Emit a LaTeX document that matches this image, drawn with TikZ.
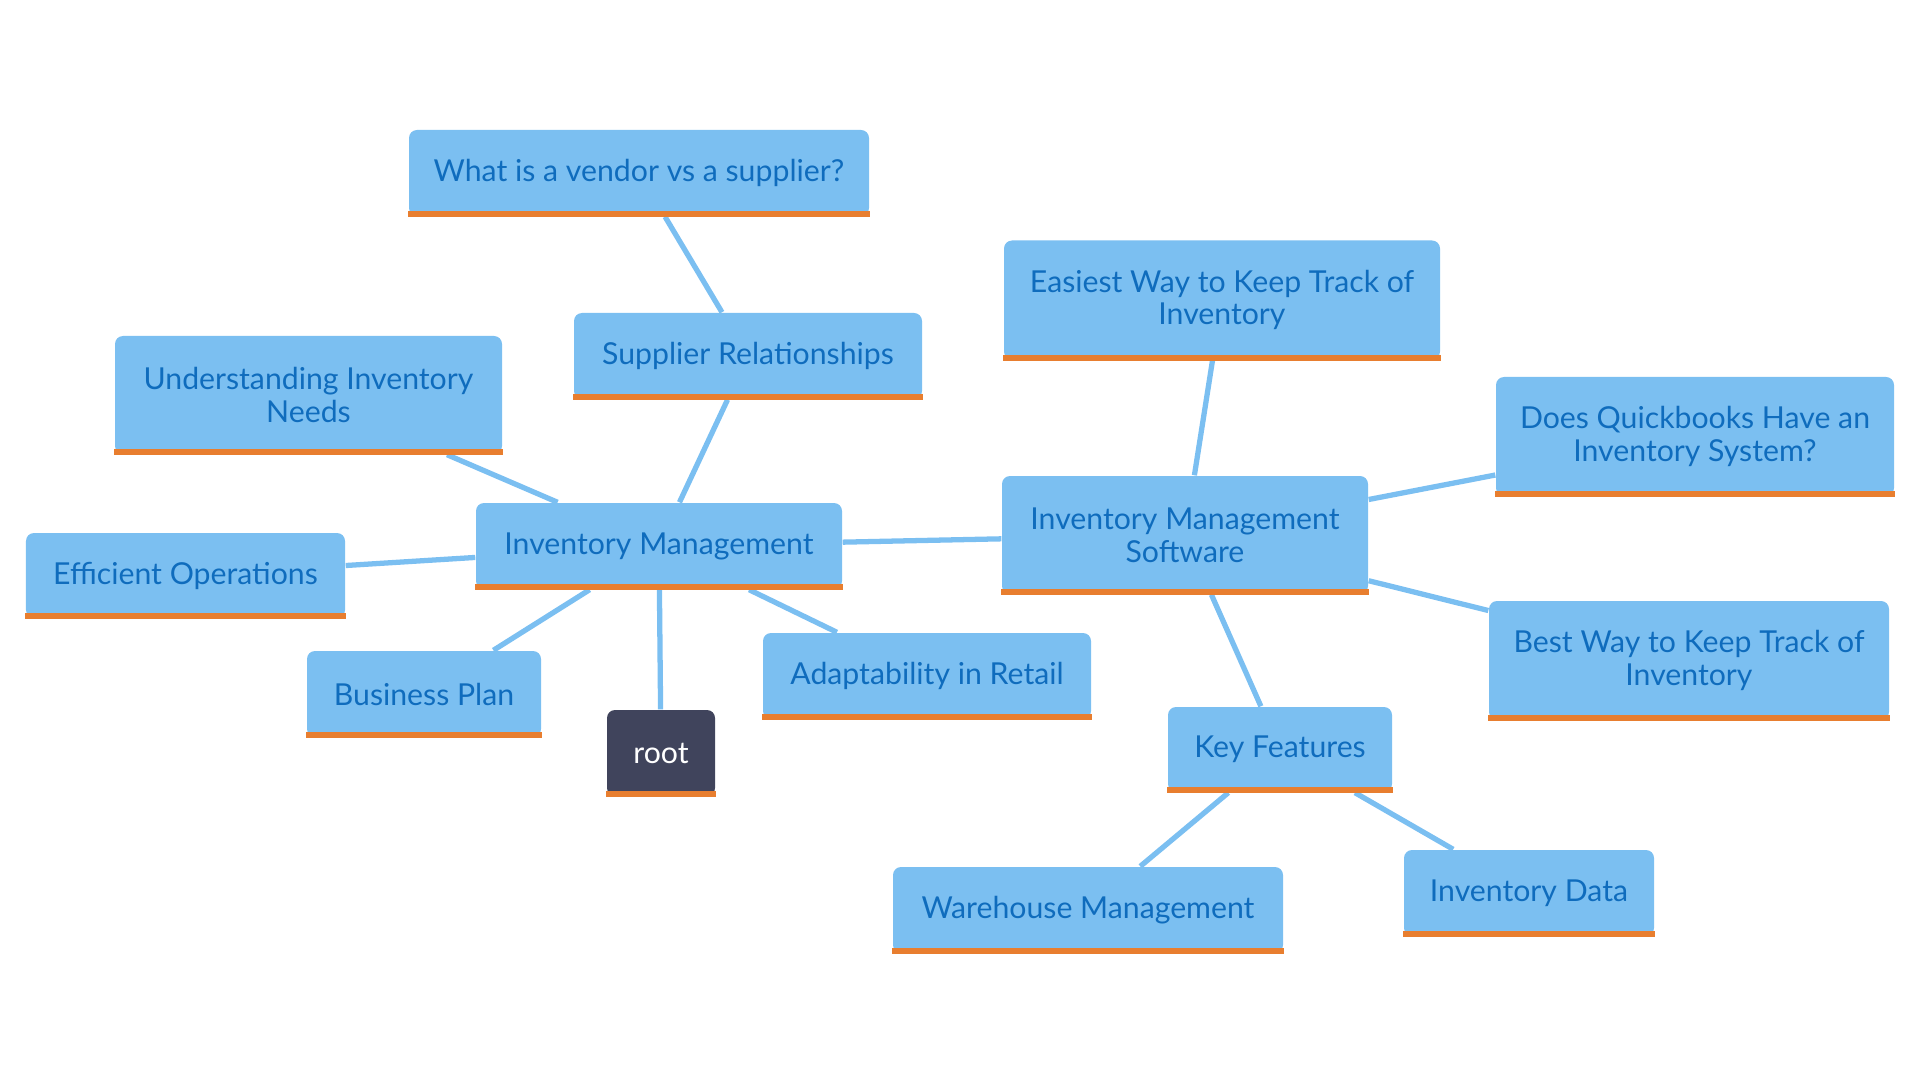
\documentclass[tikz,border=0pt]{standalone}
\usepackage{fontspec}
\setmainfont{Lato}
\usetikzlibrary{backgrounds}
\definecolor{boxblue}{HTML}{7BBFF1}
\definecolor{textblue}{HTML}{0F6CBD}
\definecolor{barorange}{HTML}{E87E2F}
\definecolor{rootgray}{HTML}{40445C}
\begin{document}
\begin{tikzpicture}[
    topic/.style={fill=boxblue, text=textblue, rounded corners=0.08cm, align=center,
      inner sep=0pt, font=\fontsize{8.6}{9.3}\selectfont},
    rootbox/.style={topic, fill=rootgray, text=white},
    link/.style={draw=boxblue, line width=1.5pt},
    bar/.style={draw=barorange, line width=1.6pt}]
  \useasboundingbox (0,0) rectangle (19.2,-10.8);

  % centre
  \node[topic, minimum width=3.66cm, minimum height=0.86cm] (im) at (6.59,-5.46) {Inventory Management};
  \node[rootbox, minimum width=1.08cm, minimum height=0.86cm] (root) at (6.61,-7.53) {root};

  % left branch
  \node[topic, minimum width=3.48cm, minimum height=0.86cm] (supplier) at (7.48,-3.56) {Supplier Relationships};
  \node[topic, minimum width=4.60cm, minimum height=0.86cm] (vendor) at (6.39,-1.73) {What is a vendor vs a supplier?};
  \node[topic, minimum width=3.87cm, minimum height=1.18cm] (needs) at (3.085,-3.95) {Understanding Inventory\\Needs};
  \node[topic, minimum width=3.19cm, minimum height=0.85cm] (efficient) at (1.855,-5.755) {Efficient Operations};
  \node[topic, minimum width=2.34cm, minimum height=0.86cm] (plan) at (4.24,-6.94) {Business Plan};
  \node[topic, minimum width=3.28cm, minimum height=0.86cm] (adapt) at (9.27,-6.76) {Adaptability in Retail};

  % software branch
  \node[topic, minimum width=3.66cm, minimum height=1.18cm] (software) at (11.85,-5.35) {Inventory Management\\Software};
  \node[topic, minimum width=4.36cm, minimum height=1.19cm] (easiest) at (12.22,-3.00) {Easiest Way to Keep Track of\\Inventory};
  \node[topic, minimum width=3.98cm, minimum height=1.19cm] (quickbooks) at (16.95,-4.365) {Does Quickbooks Have an\\Inventory System?};
  \node[topic, minimum width=4.00cm, minimum height=1.19cm] (best) at (16.89,-6.605) {Best Way to Keep Track of\\Inventory};
  \node[topic, minimum width=2.24cm, minimum height=0.85cm] (features) at (12.80,-7.495) {Key Features};
  \node[topic, minimum width=3.90cm, minimum height=0.86cm] (warehouse) at (10.88,-9.10) {Warehouse Management};
  \node[topic, minimum width=2.50cm, minimum height=0.86cm] (invdata) at (15.29,-8.93) {Inventory Data};

  % orange strips along the bottom
  \foreach \n in {im,root,supplier,vendor,needs,efficient,plan,adapt,
                  software,easiest,quickbooks,best,features,warehouse,invdata}
    \draw[bar] ([yshift=0.025cm]\n.south west) -- ([yshift=0.025cm]\n.south east);

  \begin{scope}[on background layer]
    \draw[link] (vendor) -- (supplier);
    \draw[link] (supplier) -- (im);
    \draw[link] (needs) -- (im);
    \draw[link] (efficient) -- (im);
    \draw[link] (im) -- (plan);
    \draw[link] (im) -- (root);
    \draw[link] (im) -- (adapt);
    \draw[link] (im) -- (software);
    \draw[link] (software) -- (easiest);
    \draw[link] (software) -- (quickbooks);
    \draw[link] (software) -- (best);
    \draw[link] (software) -- (features);
    \draw[link] (features) -- (warehouse);
    \draw[link] (features) -- (invdata);
  \end{scope}
\end{tikzpicture}
\end{document}
